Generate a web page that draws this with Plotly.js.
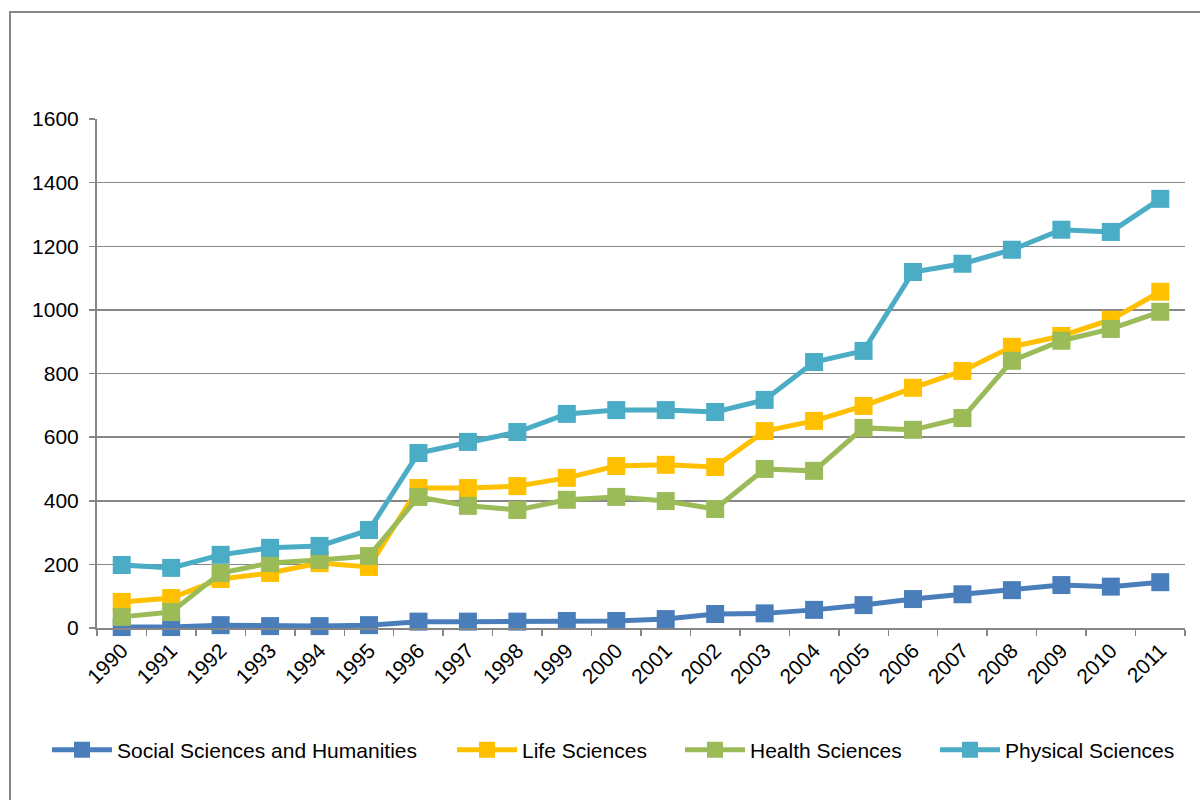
<!DOCTYPE html>
<html>
<head>
<meta charset="utf-8">
<script src="https://cdn.plot.ly/plotly-3.0.1.min.js"></script>
<style>
html,body{margin:0;padding:0;background:#fff;}
#chart{width:1200px;height:800px;}
</style>
</head>
<body>
<div id="chart"></div>
<script>
const years = ["1990","1991","1992","1993","1994","1995","1996","1997","1998","1999","2000","2001","2002","2003","2004","2005","2006","2007","2008","2009","2010","2011"];
const socialSciences = [3,3,9,6,6,9,20,20,20,22,22,28,44,46,57,72,91,106,119,135,130,144];
const lifeSciences = [82,94,154,173,204,192,440,440,446,472,509,513,506,619,651,698,755,808,884,918,969,1057];
const healthSciences = [35,50,173,204,214,226,412,384,371,403,412,399,374,500,494,629,623,660,840,903,940,994];
const physicalSciences = [198,189,230,252,258,308,550,585,616,673,685,685,679,717,836,871,1119,1145,1189,1252,1245,1349];
const seriesNames = ["Social Sciences and Humanities","Life Sciences","Health Sciences","Physical Sciences"];
const colors = ["#4A7EBB","#FFC000","#9BBB59","#4BACC6"];
const seriesData = [socialSciences, lifeSciences, healthSciences, physicalSciences];

const W = 1200, H = 800;
const L = 97, R = 1185, T = 119, B = 628;
const pw = R - L, ph = B - T;
function px(x){ return (x - L) / pw; }
function py(y){ return (B - y) / ph; }

const legendIds = ["legend","legend2","legend3","legend4"];
const legendStarts = [52, 457, 685, 940];

const traces = seriesData.map((vals, i) => ({
  type: "scatter",
  mode: "lines+markers",
  name: seriesNames[i],
  legend: legendIds[i],
  x: years,
  y: vals,
  cliponaxis: false,
  line: {color: colors[i], width: 5},
  marker: {symbol: "square", size: 18, color: colors[i]}
}));

function legendAt(startPx){
  return {
    orientation: "h",
    xref: "container", yref: "container",
    x: (startPx - 5) / W, xanchor: "left",
    y: 1 - 750/800, yanchor: "middle",
    font: {size: 21, color: "#000000"},
    itemwidth: 60,
    bgcolor: "rgba(0,0,0,0)",
    borderwidth: 0
  };
}

const layout = {
  width: W, height: H,
  margin: {l: L, r: W - R, t: T, b: H - B, pad: 0},
  paper_bgcolor: "#ffffff",
  plot_bgcolor: "#ffffff",
  font: {family: "Liberation Sans, Arial, sans-serif", size: 21, color: "#000000"},
  showlegend: true,
  legend: legendAt(legendStarts[0]),
  legend2: legendAt(legendStarts[1]),
  legend3: legendAt(legendStarts[2]),
  legend4: legendAt(legendStarts[3]),
  xaxis: {
    type: "category",
    tickangle: -45,
    tickson: "boundaries",
    ticks: "outside",
    ticklen: 6,
    tickwidth: 1.5,
    tickcolor: "#868686",
    showline: true,
    linecolor: "#868686",
    linewidth: 2,
    showgrid: false,
    zeroline: false,
    range: [-0.5, 21.5],
    fixedrange: true
  },
  yaxis: {
    range: [0, 1600],
    dtick: 200,
    tick0: 0,
    ticks: "outside",
    ticklen: 6,
    tickwidth: 1.5,
    tickcolor: "#868686",
    ticklabelstandoff: 6,
    showline: true,
    linecolor: "#868686",
    linewidth: 2,
    showgrid: true,
    gridcolor: "#868686",
    gridwidth: 1.5,
    zeroline: false,
    fixedrange: true
  },
  shapes: [{
    type: "rect",
    xref: "paper", yref: "paper",
    x0: px(10), x1: px(1210),
    y0: py(810), y1: py(12),
    line: {color: "#868686", width: 2},
    fillcolor: "rgba(0,0,0,0)",
    layer: "below"
  }]
};

Plotly.newPlot("chart", traces, layout, {displayModeBar: false, staticPlot: true});
</script>
</body>
</html>
